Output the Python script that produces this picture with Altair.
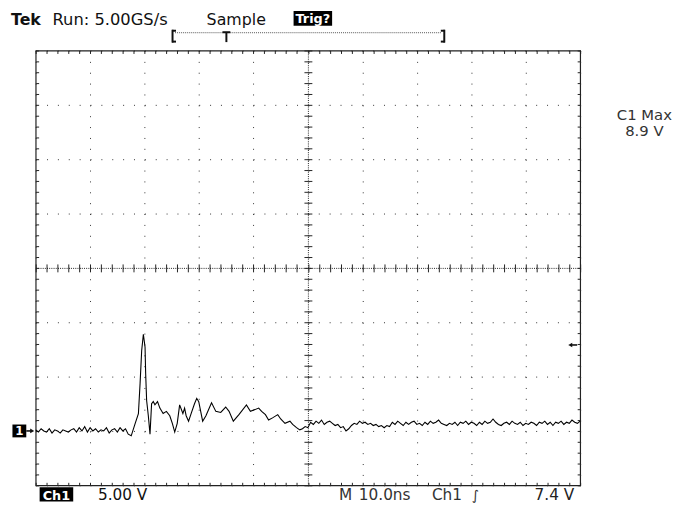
import altair as alt
import pandas as pd

# ---------------- data (time in ns, Ch1 in V) ----------------
pre_t = [0.0, 0.5, 1.0, 1.5, 2.0, 2.5, 3.0, 3.5, 4.0, 4.5, 5.0, 5.5, 6.0, 6.5, 7.0, 7.5,
         8.0, 8.5, 9.0, 9.5, 10.0, 10.5, 11.0, 11.5, 12.0, 12.5, 13.0, 13.5, 14.0, 14.5,
         15.0, 15.5, 16.0, 16.5, 17.0, 17.55]
pre_v = [0.1, -0.1, 0.2, 0.0, -0.1, 0.2, -0.2, 0.1, 0.0, -0.2, 0.1, 0.0, -0.1, 0.1, 0.2, -0.1,
         0.3, 0.0, 0.4, -0.1, 0.3, 0.0, 0.2, -0.1, 0.1, 0.0, 0.3, -0.2, 0.1, 0.2,
         -0.1, 0.3, 0.0, 0.2, -0.3, -0.45]

pulse_t = [18.28, 18.87, 19.18, 19.47, 19.78, 20.09, 20.2, 20.38, 20.69, 21.0,
           21.29, 21.6, 21.9, 22.38, 22.81, 23.41, 24.01, 24.63, 25.1, 25.54,
           26.0, 26.44, 27.04, 27.35, 27.64, 28.08, 28.55, 29.17, 29.58, 29.95,
           30.67, 31.27, 32.3, 33.09, 33.99, 34.9, 35.52, 36.3, 37.33, 38.71,
           39.44, 40.96, 41.5, 42.2, 42.78, 43.5, 44.46, 45.0, 45.79, 46.7,
           47.2, 47.91, 48.51]
pulse_v = [0.7, 1.6, 4.4, 7.4, 8.9, 7.7, 5.3, 2.8, 1.4, -0.3,
           2.5, 2.7, 2.4, 2.7, 2.1, 1.6, 1.8, 1.4, 0.7, -0.1,
           0.7, 2.4, 1.6, 2.1, 1.4, 0.9, 1.6, 2.5, 3.0, 2.7,
           0.9, 1.4, 2.6, 1.8, 1.7, 2.2, 1.8, 0.9, 1.5, 2.4,
           1.8, 2.1, 1.8, 1.5, 1.0, 1.2, 1.5, 1.1, 0.7, 0.9,
           0.6, 0.3, 0.1]

tail_t = [49.0, 49.5, 50.0, 50.5, 51.0, 51.5, 52.0, 52.5, 53.0, 53.5,
          54.0, 54.5, 55.0, 55.5, 56.0, 56.5, 57.0, 57.5, 58.0, 58.5,
          59.0, 59.5, 60.0, 60.5, 61.0, 61.5, 62.0, 62.5, 63.0, 63.5,
          64.0, 64.5, 65.0, 65.5, 66.0, 66.5, 67.0, 67.5, 68.0, 68.5,
          69.0, 69.5, 70.0, 70.5, 71.0, 71.5, 72.0, 72.5, 73.0, 73.5,
          74.0, 74.5, 75.0, 75.5, 76.0, 76.5, 77.0, 77.5, 78.0, 78.5,
          79.0, 79.5, 80.0, 80.5, 81.0, 81.5, 82.0, 82.5, 83.0, 83.5,
          84.0, 84.5, 85.0, 85.5, 86.0, 86.5, 87.0, 87.5, 88.0, 88.5,
          89.0, 89.5, 90.0, 90.5, 91.0, 91.5, 92.0, 92.5, 93.0, 93.5,
          94.0, 94.5, 95.0, 95.5, 96.0, 96.5, 97.0, 97.5, 98.0, 98.5,
          99.0, 99.5, 100.0]
tail_v = [0.2, 0.4, 0.3, 0.8, 0.6, 0.9, 0.7, 1.0, 0.6, 0.8,
          0.9, 0.7, 0.5, 0.6, 0.3, 0.4, 0.0, 0.2, 0.5, 0.7,
          0.6, 0.9, 0.7, 0.8, 0.6, 0.7, 0.5, 0.6, 0.4, 0.5,
          0.3, 0.5, 0.4, 0.8, 0.6, 0.9, 0.7, 0.5, 0.8, 0.6,
          0.8, 0.9, 0.6, 0.7, 0.5, 0.8, 0.6, 0.9, 0.7, 0.8,
          1.0, 0.7, 0.6, 0.5, 0.7, 0.6, 0.8, 0.5, 0.8, 0.7,
          0.9, 0.6, 0.8, 0.7, 0.5, 0.8, 0.6, 0.9, 0.7, 0.8,
          1.1, 0.8, 0.6, 0.5, 0.7, 0.8, 0.6, 0.9, 0.7, 0.6,
          0.8, 0.5, 0.7, 0.6, 0.8, 0.7, 0.5, 0.8, 0.7, 0.9,
          0.6, 0.8, 0.5, 0.8, 0.7, 0.9, 0.6, 0.8, 0.7, 1.0,
          0.8, 0.7, 0.9]

# graticule: 10 ns/div x 10 div, 5 V/div x 8 div (ground one division above bottom)
major_t = [0, 10, 20, 30, 40, 50, 60, 70, 80, 90, 100]
major_v = [-5, 0, 5, 10, 15, 20, 25, 30, 35]
minor_t = list(range(0, 101, 2))
minor_v = list(range(-5, 36))

# texts
header_bold = ["Tek"]
header_run = ["Run: 5.00GS/s"]
header_mode = ["Sample"]
header_trig = ["Trig?"]
ch_marker = ["1"]
meas_name = ["C1 Max"]
meas_val = ["8.9 V"]
bottom_ch = ["Ch1"]
bottom_scale = ["5.00 V"]
bottom_m = ["M"]
bottom_time = ["10.0ns"]
bottom_src = ["Ch1"]
bottom_slope = ["∫"]
bottom_level = ["7.4 V"]

# ---------------- chart ----------------
FONT = "DejaVu Sans"
INK = "#111111"
W, H = 551, 440

df = pd.DataFrame({"t": pre_t + pulse_t + tail_t, "v": pre_v + pulse_v + tail_v})
one = pd.DataFrame({"k": [0]})

xs = alt.Scale(domain=[0, 100], nice=False, zero=False)
ys = alt.Scale(domain=[-5, 35], nice=False, zero=False)


def axis(orient, values, offset=0, tick=0, domain=False, grid=False):
    kw = dict(orient=orient, values=values, offset=offset, labels=False, title=None,
              domain=domain, grid=grid)
    if tick > 0:
        kw.update(ticks=True, tickSize=tick, tickColor="#222222", tickWidth=1)
    else:
        kw.update(ticks=False)
    if domain:
        kw.update(domainColor="#222222", domainDash=[1, 1.2], domainWidth=1)
    if grid:
        kw.update(gridColor="#333333", gridDash=[1, 10], gridWidth=1, gridOpacity=1)
    return alt.Axis(**kw)


trace = alt.Chart(df).mark_line(color="#000000", strokeWidth=1.1).encode(
    x=alt.X("t:Q", scale=xs, axis=axis("bottom", major_t, grid=True)),
    y=alt.Y("v:Q", scale=ys, axis=axis("left", major_v, grid=True)),
)


def guide_layer(xo, xoff, xtick, xdom, yo, yoff, ytick, ydom, xvals, yvals):
    return alt.Chart(df).mark_point(opacity=0, size=1).encode(
        x=alt.X("t:Q", scale=xs, axis=axis(xo, xvals, xoff, xtick, domain=xdom)),
        y=alt.Y("v:Q", scale=ys, axis=axis(yo, yvals, yoff, ytick, domain=ydom)),
    )


# centre cross with fine ticks
center_a = guide_layer("top", -H / 2, 4, True, "left", -W / 2, 4, True, minor_t, minor_v)
center_b = guide_layer("bottom", -H / 2, 4, False, "right", -W / 2, 4, False, minor_t, minor_v)
# inward minor ticks on the frame
frame_a = guide_layer("bottom", -3, 3, False, "left", -3, 3, False, minor_t, minor_v)
frame_b = guide_layer("top", -3, 3, False, "right", -3, 3, False, minor_t, minor_v)


def text(vals, x, y, size=16, bold=False, color=INK, align="left"):
    return alt.Chart(pd.DataFrame({"s": vals})).mark_text(
        font=FONT, fontSize=size, fontWeight="bold" if bold else "normal",
        color=color, align=align, baseline="alphabetic",
    ).encode(x=alt.value(x), y=alt.value(y), text="s:N")


def box(x1, y1, x2, y2):
    return alt.Chart(one).mark_rect(color="#000000").encode(
        x=alt.value(x1), x2=alt.value(x2), y=alt.value(y1), y2=alt.value(y2))


def seg(x1, y1, x2, y2, w=1.0, color=INK, dash=None):
    kw = dict(strokeWidth=w, color=color)
    if dash:
        kw["strokeDash"] = dash
    return alt.Chart(one).mark_rule(**kw).encode(
        x=alt.value(x1), x2=alt.value(x2), y=alt.value(y1), y2=alt.value(y2))


def head(x, y, shape, size=30):
    return alt.Chart(one).mark_point(shape=shape, filled=True, size=size, color=INK,
                                     opacity=1).encode(x=alt.value(x), y=alt.value(y))


deco = [
    # header
    text(header_bold, -25, -25.5, 16, bold=True),
    text(header_run, 17, -25.5, 16.5),
    text(header_mode, 173, -25.5, 16),
    box(261, -40, 300, -25),
    text(header_trig, 280.5, -27.5, 13, bold=True, color="#ffffff", align="center"),
    # record bar
    seg(141, -18, 411, -18, 1, "#555555", [1, 1]),
    seg(138.5, -21, 138.5, -8, 2),
    seg(138, -20, 142, -20, 2),
    seg(138, -9, 142, -9, 2),
    seg(413.5, -21, 413.5, -8, 2),
    seg(410, -20, 414, -20, 2),
    seg(410, -9, 414, -9, 2),
    seg(189, -18.5, 197, -18.5, 2),
    seg(193, -18.5, 193, -8.5, 2),
    # channel ground marker "1 ->"
    box(-23.5, 378.5, -9.5, 391.5),
    text(ch_marker, -16.5, 389.5, 12, bold=True, color="#ffffff", align="center"),
    seg(-9.5, 385, -4, 385, 1.6),
    head(-3.5, 385, "triangle-right", 22),
    # trigger level marker "<-"
    head(541, 298, "triangle-left", 22),
    seg(542, 298, 548, 298, 1.6),
    # measurement readout
    text(meas_name, 616, 70.5, 15, color="#333333", align="center"),
    text(meas_val, 616, 87, 15, color="#333333", align="center"),
    # bottom status line
    box(4, 442, 38, 456.5),
    text(bottom_ch, 21, 454.5, 13, bold=True, color="#ffffff", align="center"),
    text(bottom_scale, 63, 455, 15.5),
    text(bottom_m, 307, 455, 15.5, color="#333333"),
    text(bottom_time, 327, 455, 15.5, color="#333333"),
    text(bottom_src, 401, 455, 15.5, color="#333333"),
    text(bottom_slope, 445, 455, 14, color="#333333", align="center"),
    text(bottom_level, 545, 455, 15.5, color="#222222", align="right"),
]

chart = alt.layer(trace, center_a, center_b, frame_a, frame_b, *deco).resolve_axis(
    x="independent", y="independent"
).properties(
    width=W, height=H,
    autosize=alt.AutoSizeParams(type="none"),
    padding={"left": 28, "top": 40, "right": 97, "bottom": 22},
    background="#ffffff",
).configure_view(stroke="#222222", strokeWidth=1.2)

chart.save("out.html", embed_options={"renderer": "svg", "actions": False})
